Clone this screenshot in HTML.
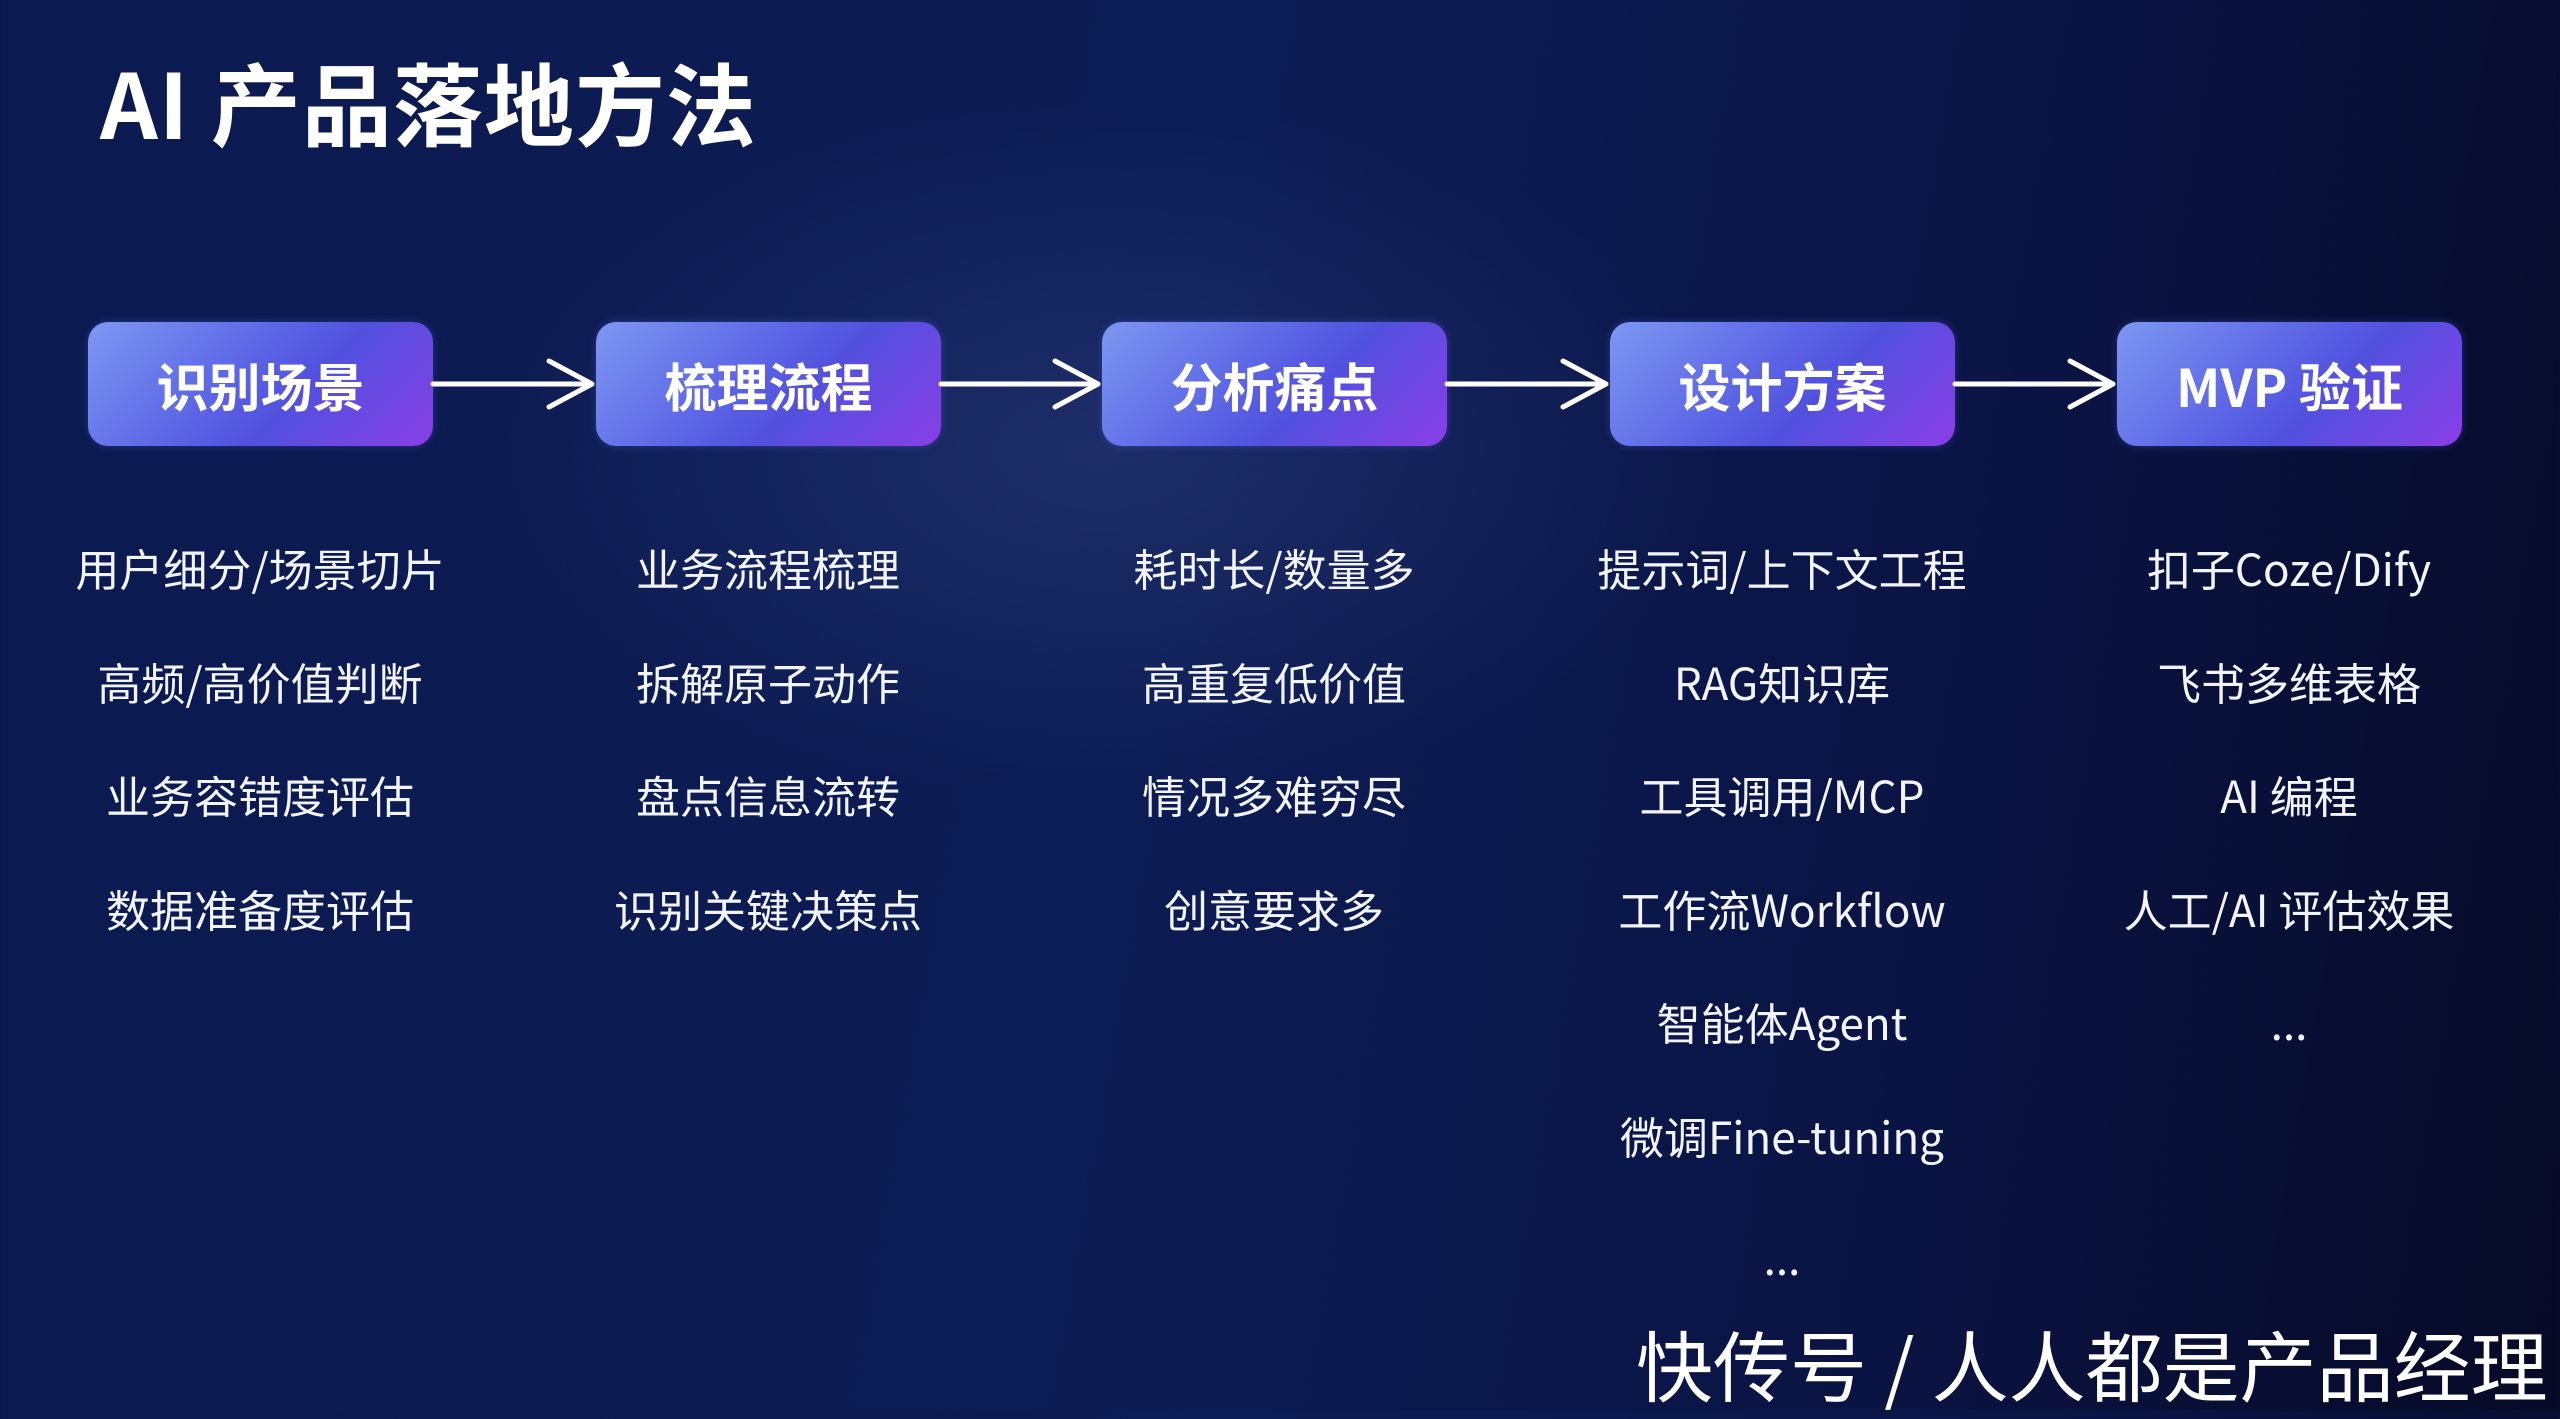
<!DOCTYPE html>
<html><head><meta charset="utf-8"><style>
*{margin:0;padding:0;box-sizing:border-box}
body{width:2560px;height:1410px;overflow:hidden;position:relative;font-family:"Noto Sans CJK SC","Liberation Sans",sans-serif;color:#fff;
background:radial-gradient(ellipse 900px 500px at 1100px 450px,rgba(45,60,120,0.55),rgba(0,0,0,0) 70%),linear-gradient(100deg,#0b1a4f 0%,#0c1c54 45%,#0a1444 75%,#060a26 100%);}
.title{position:absolute;left:100px;top:40px;font-size:90px;font-weight:bold;line-height:120px;letter-spacing:1px}
.box{position:absolute;top:322px;width:345px;height:124px;border-radius:20px;background:linear-gradient(135deg,#7d98f2 0%,#5a62e4 45%,#5151de 60%,#8a3ee6 100%);display:flex;align-items:center;justify-content:center;font-size:52px;font-weight:bold;box-shadow:0 0 8px rgba(100,110,255,0.3)}
.col{position:absolute;top:511px;width:500px;text-align:center;font-size:44px;line-height:113.5px;color:#f2f4ff}
.foot{position:absolute;left:1636px;top:1316px;font-size:77px;line-height:96px;white-space:nowrap}
</style></head><body>
<div class="title">AI 产品落地方法</div>
<div class="box" style="left:88px">识别场景</div>
<div class="box" style="left:596px">梳理流程</div>
<div class="box" style="left:1102px">分析痛点</div>
<div class="box" style="left:1610px">设计方案</div>
<div class="box" style="left:2117px">MVP 验证</div>
<svg style="position:absolute;left:0;top:0" width="2560" height="1410">
<g stroke="#fff" stroke-width="5" fill="none" stroke-linecap="round" stroke-linejoin="round">
<path d="M433 384H592M549 361L592 384L549 407"/>
<path d="M941 384H1098M1055 361L1098 384L1055 407"/>
<path d="M1447 384H1606M1563 361L1606 384L1563 407"/>
<path d="M1955 384H2113M2070 361L2113 384L2070 407"/>
</g></svg>
<div class="col" style="left:10px">用户细分/场景切片<br>高频/高价值判断<br>业务容错度评估<br>数据准备度评估</div>
<div class="col" style="left:518px">业务流程梳理<br>拆解原子动作<br>盘点信息流转<br>识别关键决策点</div>
<div class="col" style="left:1024px">耗时长/数量多<br>高重复低价值<br>情况多难穷尽<br>创意要求多</div>
<div class="col" style="left:1532px">提示词/上下文工程<br>RAG知识库<br>工具调用/MCP<br>工作流Workflow<br>智能体Agent<br>微调Fine-tuning<br><span style="position:relative;top:8px">...</span></div>
<div class="col" style="left:2039px">扣子Coze/Dify<br>飞书多维表格<br>AI 编程<br>人工/AI 评估效果<br>...</div>
<div class="foot">快传号 / 人人都是产品经理</div>
</body></html>
